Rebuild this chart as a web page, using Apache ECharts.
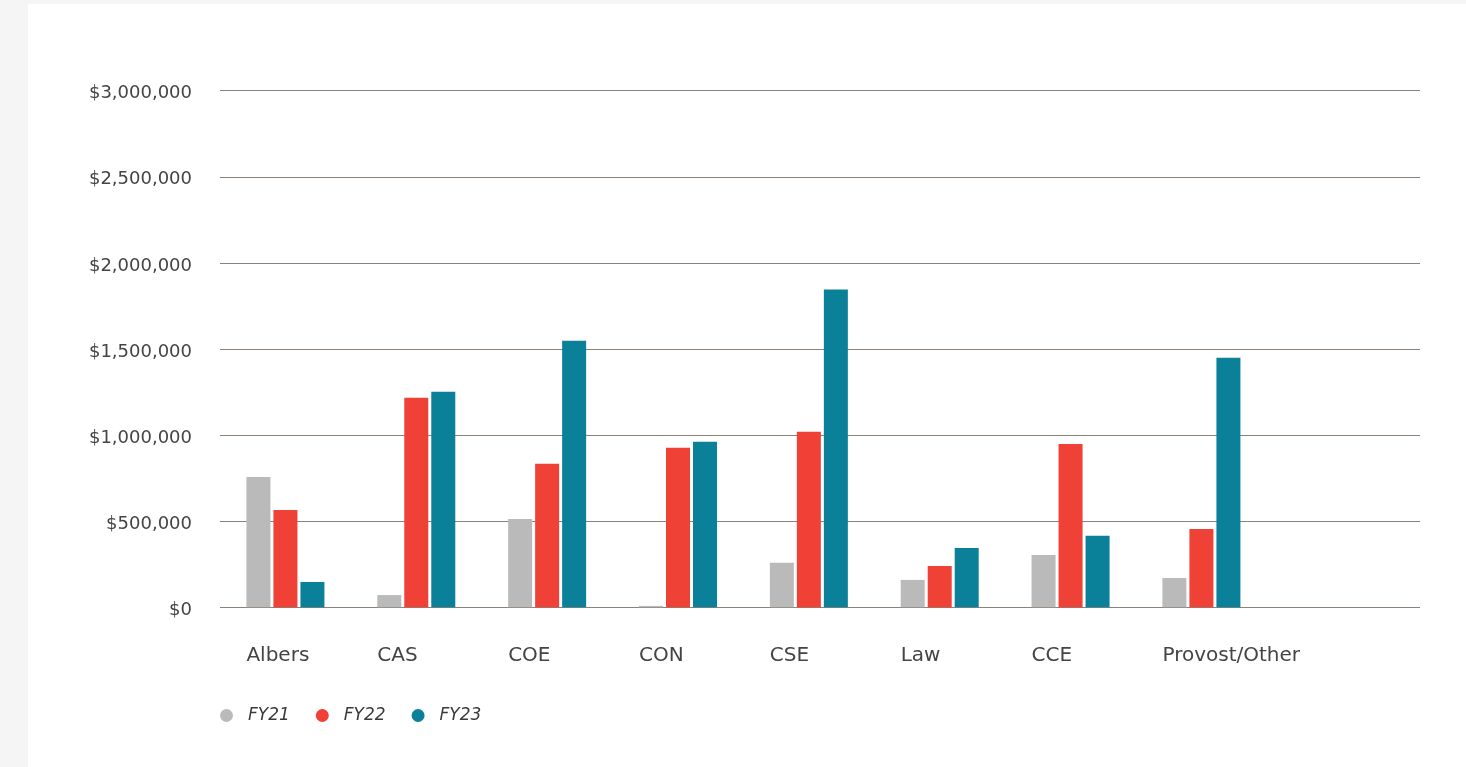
<!DOCTYPE html>
<html>
<head>
<meta charset="utf-8">
<script src="https://cdn.jsdelivr.net/npm/echarts@6/dist/echarts.min.js"></script>
<style>
  html, body { margin: 0; padding: 0; background: #f5f5f5; width: 1466px; height: 767px; overflow: hidden; }
  #panel { position: absolute; left: 28px; top: 4px; width: 1438px; height: 763px; background: #ffffff; }
  #chart { position: absolute; left: 0; top: 0; width: 1466px; height: 767px; }
</style>
</head>
<body>
<div id="panel"></div>
<div id="chart"></div>
<script>
const categories = ['Albers', 'CAS', 'COE', 'CON', 'CSE', 'Law', 'CCE', 'Provost/Other', ''];
const seriesNames = ['FY21', 'FY22', 'FY23'];
const fy21 = [756000, 71000, 513000, 8000, 258000, 159000, 304000, 170000];
const fy22 = [565000, 1217000, 833000, 926000, 1019000, 240000, 949000, 455000];
const fy23 = [147000, 1252000, 1548000, 961000, 1845000, 345000, 415000, 1449000];
const yTicks = { min: 0, max: 3000000, interval: 500000 };
const colors = ['#bababa', '#ef4136', '#0a8099'];

const FONT = '"DejaVu Sans", sans-serif';
const chart = echarts.init(document.getElementById('chart'), null, { renderer: 'canvas' });

function money(v) {
  return '{m|$' + Math.round(v).toString().replace(/\B(?=(\d{3})+(?!\d))/g, ',') + '}';
}

const option = {
  backgroundColor: 'transparent',
  animation: false,
  color: colors,
  grid: [
    { left: 220, top: 90.7, width: 1177.7, height: 516.6 },
    { left: 220, top: 90.7, width: 1200, height: 516.6 }
  ],
  legend: {
    data: seriesNames,
    left: 220,
    top: 707,
    padding: 0,
    icon: 'circle',
    itemWidth: 13,
    itemHeight: 13,
    itemGap: 26,
    textStyle: { fontFamily: FONT, fontSize: 17, fontStyle: 'italic', color: '#3a3a3a', padding: [0, 0, 0, 10] }
  },
  xAxis: [
    {
      type: 'category', gridIndex: 0, data: categories,
      axisLine: { show: false }, axisTick: { show: false },
      axisLabel: {
        interval: 0, margin: 38,
        formatter: '{a|{value}}',
        rich: { a: { width: 78, align: 'left', fontFamily: FONT, fontSize: 20, color: '#444444' } }
      }
    },
    { type: 'value', gridIndex: 1, min: 0, max: 1, show: false }
  ],
  yAxis: [
    {
      type: 'value', gridIndex: 0, min: yTicks.min, max: yTicks.max, interval: yTicks.interval,
      axisLine: { show: false }, axisTick: { show: false }, splitLine: { show: false },
      axisLabel: {
        margin: 28, formatter: money,
        rich: { m: { padding: [6, 0, 0, 0], fontFamily: FONT, fontSize: 18, color: '#444444' } }
      }
    },
    {
      type: 'value', gridIndex: 1, min: yTicks.min, max: yTicks.max, interval: yTicks.interval,
      axisLine: { show: false }, axisTick: { show: false }, axisLabel: { show: false },
      splitLine: { show: true, lineStyle: { color: '#8c8279', width: 1 } }
    }
  ],
  series: [
    { name: seriesNames[0], type: 'bar', xAxisIndex: 0, yAxisIndex: 0, data: fy21, barWidth: 24, barGap: '12.5%', itemStyle: { color: colors[0] } },
    { name: seriesNames[1], type: 'bar', xAxisIndex: 0, yAxisIndex: 0, data: fy22, barWidth: 24, barGap: '12.5%', itemStyle: { color: colors[1] } },
    { name: seriesNames[2], type: 'bar', xAxisIndex: 0, yAxisIndex: 0, data: fy23, barWidth: 24, barGap: '12.5%', itemStyle: { color: colors[2] } }
  ]
};
chart.setOption(option);
</script>
</body>
</html>
